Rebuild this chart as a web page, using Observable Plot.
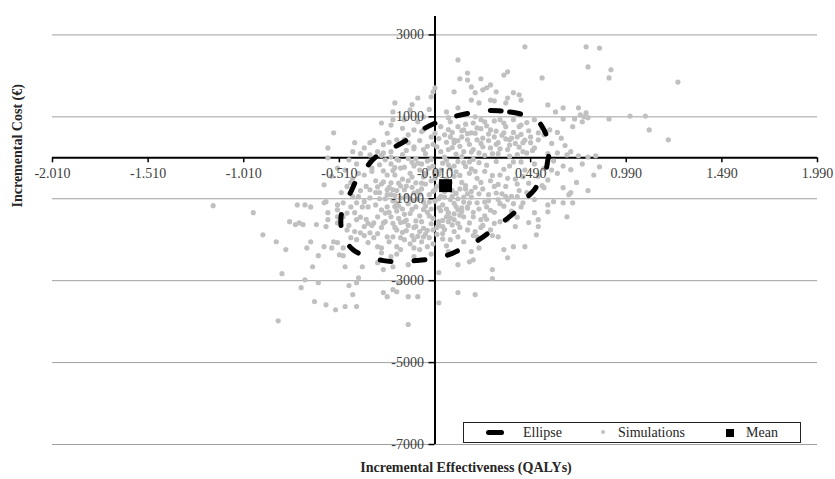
<!DOCTYPE html>
<html><head><meta charset="utf-8">
<script src="https://cdn.jsdelivr.net/npm/d3@7"></script>
<script src="https://cdn.jsdelivr.net/npm/@observablehq/plot@0.6"></script>
<style>
html,body{margin:0;padding:0;background:#fff;}
#wrap{position:relative;width:835px;height:479px;overflow:hidden;}
#legend{position:absolute;left:463px;top:422px;width:338px;height:21px;border:1px solid #222;background:#fff;box-sizing:border-box;font-family:"Liberation Serif","Times New Roman",serif;font-size:14px;color:#262626;}
#legend .txt{position:absolute;top:0;line-height:19px;white-space:nowrap;}
#legend .sym{position:absolute;}
</style></head><body><div id="wrap"></div>
<script>
// ---- tick values and labels ----
const xTicks = [-2.01, -1.51, -1.01, -0.51, -0.01, 0.49, 0.99, 1.49, 1.99];
const xTickLabels = ["-2.010", "-1.510", "-1.010", "-0.510", "-0.010", "0.490", "0.990", "1.490", "1.990"];
const yTicks = [3000, 1000, -1000, -3000, -5000, -7000];
const yTickLabels = ["3000", "1000", "-1000", "-3000", "-5000", "-7000"];
const yAxisAt = -0.01;   // x value where the vertical axis crosses
const xAxisAt = 0;       // y value where the horizontal axis crosses
const legendItems = ["Ellipse", "Simulations", "Mean"];
const xTitle = "Incremental Effectiveness (QALYs)";
const yTitle = "Incremental Cost (€)";

// ---- mean point ----
const meanPoint = [[0.045, -680]];

// ---- ellipse outline ----
const ellipse = [
  [0.32,1150],[0.38,1120],[0.45,1050],[0.49,950],[0.53,880],[0.56,680],[0.58,440],[0.59,200],
  [0.58,-50],[0.57,-290],[0.54,-540],[0.51,-780],[0.46,-1020],[0.42,-1270],[0.36,-1510],[0.29,-1760],
  [0.22,-2000],[0.13,-2220],[0.06,-2370],[-0.02,-2460],[-0.11,-2510],[-0.20,-2540],[-0.28,-2510],
  [-0.37,-2410],[-0.44,-2240],[-0.48,-2000],[-0.50,-1710],[-0.50,-1390],[-0.48,-1100],[-0.45,-830],
  [-0.42,-540],[-0.37,-240],[-0.32,20],[-0.26,170],[-0.20,320],[-0.13,510],[-0.06,730],[0.02,900],
  [0.10,1020],[0.18,1100],[0.25,1150]
];

// ---- simulations (QALY, cost) ----
const simulations = [
  [0.46,2710],[0.78,2710],[0.85,2680],[0.79,2220],[0.91,2150],[0.90,1950],[1.26,1850],[0.11,2390],[0.16,2070],[0.12,1930],[0.16,1900],[0.23,1930],[0.37,2100],[0.35,2020],[0.55,1950],
  [-0.01,1710],[-0.02,1610],[-0.03,1490],[0.09,1610],[0.18,1730],[0.20,1590],[0.24,1660],[0.26,1710],[0.28,1780],[0.31,1610],[0.40,1590],[0.43,1540],[0.44,1410],[0.37,1460],[0.36,1340],[0.18,1410],[0.22,1340],[0.28,1410],[0.30,1390],[-0.10,1460],[-0.22,1340],[0.58,1290],[0.62,1120],[0.66,1220],[0.74,1220],[0.66,950],[0.71,760],[0.76,880],[0.79,980],[0.55,730],[0.59,680],
  [0.11,1220],[0.05,1120],[0.06,980],[0.20,1000],[0.23,930],[0.25,880],[0.33,930],[0.40,930],[0.43,760],[0.51,930],[0.53,610],[0.53,440],[-0.14,1170],[-0.17,930],[-0.12,680],[-0.07,680],[-0.21,440],[-0.15,370],[-0.03,510],
  [0.11,760],[0.14,680],[0.18,610],[0.13,510],[0.16,440],[0.21,440],[0.07,510],[0.09,370],[0.28,680],[0.30,510],[0.32,370],[0.35,610],[0.38,440],[0.42,510],[0.45,370],[0.49,510],[0.24,270],[0.19,200],[0.14,150],[0.06,200],[0.00,270],[-0.07,200],[-0.12,270],[0.37,200],[0.45,150],[0.51,240],[0.63,120],[0.68,70],[0.74,50],[0.79,20],
  [0.78,1100],[0.90,950],[1.01,1020],[1.09,1020],[1.11,680],[1.21,440],[0.83,50],[0.85,-220],[0.70,-850],[0.72,950],[0.75,1050],[0.77,1000],
  [0.56,560],[0.60,350],[0.63,620],[0.67,300],[0.65,480],[0.70,150],[0.58,100],
  [-0.54,610],[-0.57,240],[-0.57,0],[-0.43,370],[-0.38,240],[-0.35,370],[-0.28,320],[-0.29,850],[-0.24,800],[-0.23,930],[-0.23,1120],[-0.44,150],[-0.35,70],[-0.28,120],[-0.24,20],
  [-1.17,-1170],[-0.96,-1340],[-0.91,-1880],[-0.84,-2050],[-0.79,-2240],[-0.81,-2830],[-0.83,-3980],[-0.71,-3170],[-0.69,-2980],[-0.64,-3510],[-0.58,-3590],[-0.53,-3710],[-0.48,-3630],[-0.42,-3630],[-0.44,-3340],[-0.46,-3120],[-0.42,-3050],[-0.41,-2930],[-0.62,-3050],[-0.65,-2660],[-0.68,-2200],[-0.62,-2390],[-0.59,-2170],[-0.66,-2050],[-0.54,-2050],[-0.52,-2070],[-0.55,-2200],[-0.49,-2200],[-0.51,-2370],[-0.49,-2390],[-0.48,-2660],[-0.39,-2660],
  [-0.77,-1560],[-0.74,-1630],[-0.72,-1590],[-0.70,-1630],[-0.63,-1630],[-0.58,-1680],[-0.57,-1510],[-0.57,-1340],[-0.52,-1270],[-0.52,-1150],[-0.66,-1200],[-0.69,-1150],[-0.73,-1150],[-0.59,-1100],[-0.58,-1070],[-0.59,-660],[-0.52,-1440],[-0.52,-1590],[-0.49,-1440],[-0.47,-1760],[-0.45,-1950],[-0.42,-2000],[-0.40,-1830],[-0.38,-1680],[-0.42,-1510],[-0.43,-1340],[-0.45,-1200],[-0.42,-1100],[-0.38,-1070],[-0.35,-980],[-0.32,-850],[-0.31,-710],[-0.28,-590],[-0.24,-610],[-0.26,-900],[-0.23,-780],[-0.21,-1100],[-0.26,-1200],[-0.29,-1270],[-0.24,-1440],[-0.28,-1590],[-0.31,-1440],[-0.33,-1590],[-0.35,-1830],[-0.36,-2070],[-0.31,-2170],[-0.29,-2320],[-0.31,-2560],[-0.28,-2730],[-0.28,-3290],[-0.26,-3390],[-0.23,-3220],[-0.20,-3050],[-0.24,-2410],[-0.23,-2660],[-0.21,-2170],[-0.21,-1760],[-0.23,-1930],[-0.26,-1930],
  [0.56,-730],[0.66,-730],[0.69,-900],[0.71,-1100],[0.66,-1100],[0.61,-1070],[0.58,-1320],[0.58,-1150],[0.68,-1440],[0.53,-1510],[0.51,-1340],[0.53,-1680],[0.52,-1880],[0.46,-2170],[0.40,-2170],[0.35,-2240],[0.37,-2440],[0.41,-1680],[0.37,-1510],[0.32,-1930],[0.28,-1760],[0.29,-2730],[0.29,-2950],[0.22,-2200],[0.18,-2290],[0.19,-2490],[0.17,-2540],[0.11,-2610],[0.20,-3340],[0.11,-3290],[0.01,-3540],[0.01,-2800],[-0.15,-4070],[-0.10,-3390],[-0.15,-3390],[-0.21,-3270],[-0.15,-2610],[-0.12,-2410],[-0.19,-2240],[-0.09,-2240],[-0.05,-2170],[-0.07,-1930],[-0.12,-2000],[-0.17,-2000],
  [0.06,-2290],[0.07,-2000],[0.11,-1930],[0.16,-1760],[0.21,-1930],[0.23,-1510],[0.19,-1440],[0.14,-1440],[0.09,-1510],[0.03,-1680],[0.06,-1340],[0.11,-1270],[0.16,-1200],[0.21,-1100],[0.26,-1200],[0.32,-1020],[0.37,-1020],[0.42,-950],[0.44,-1200],[0.47,-850],[0.51,-1020],
  [-0.24,-150],[-0.20,-60],[-0.17,-230],[-0.13,-110],[-0.09,-300],[-0.05,-80],[-0.02,-200],[0.03,-130],[0.07,-260],[0.11,-90],[0.15,-210],[0.19,-40],
  [-0.22,-420],[-0.18,-520],[-0.14,-380],[-0.11,-610],[-0.07,-470],[-0.03,-560],[0.01,-400],[0.05,-520],[0.09,-450],[0.13,-600],[0.17,-380],[0.21,-500],
  [-0.25,-720],[-0.21,-800],[-0.16,-690],[-0.12,-860],[-0.08,-760],[-0.04,-900],[0.00,-700],[0.04,-820],[0.08,-940],[0.12,-760],[0.16,-880],[0.20,-720],
  [-0.23,-1050],[-0.19,-980],[-0.15,-1120],[-0.10,-1010],[-0.06,-1180],[-0.01,-1060],[0.03,-1150],[0.07,-1020],[0.10,-1190],[0.14,-1080],[0.18,-960],
  [-0.21,-1300],[-0.17,-1380],[-0.13,-1260],[-0.09,-1420],[-0.05,-1330],[-0.02,-1480],[0.02,-1290],[0.05,-1440],[0.09,-1370],[0.13,-1310],
  [-0.19,-1580],[-0.15,-1650],[-0.11,-1540],[-0.07,-1720],[-0.03,-1610],[0.01,-1560],[0.04,-1750],[0.08,-1640],
  [-0.18,-1820],[-0.13,-1900],[-0.09,-1800],[-0.04,-1950],[0.00,-1870],
  [-0.23,-310],[-0.19,-250],[-0.15,-560],[-0.12,-200],[-0.08,-150],[-0.06,-380],[-0.01,-330],[0.02,-610],[0.06,-170],[0.10,-340],[0.14,-120],[0.18,-270],
  [-0.24,-900],[-0.20,-620],[-0.16,-930],[-0.13,-720],[-0.10,-820],[-0.06,-640],[-0.02,-820],[0.02,-940],[0.06,-650],[0.10,-870],[0.14,-960],[0.18,-820],
  [-0.22,-1190],[-0.18,-1250],[-0.14,-1000],[-0.11,-1200],[-0.07,-1080],[-0.03,-1250],[0.01,-1000],[0.05,-1250],[0.09,-1110],[0.12,-1400],[0.16,-1230],
  [-0.20,-1480],[-0.16,-1520],[-0.12,-1700],[-0.08,-1560],[-0.04,-1420],[0.00,-1700],[0.03,-1530],[0.07,-1470],[0.11,-1600],
  [-0.22,-1700],[-0.16,-1780],[-0.10,-1920],[-0.06,-1860],[-0.02,-1760],[0.03,-1850],
  [0.02,150],[0.05,380],[0.08,620],[0.10,90],[0.12,280],[0.15,820],[0.17,330],[0.20,600],[0.22,120],[0.24,480],[0.26,780],[0.28,240],[0.30,900],[0.32,100],[0.34,550],[0.36,760],[0.38,310],[0.40,620],[0.42,80],[0.44,800],[0.46,430],[0.48,660],[0.50,180],[0.02,760],[0.04,560],[0.07,880],[0.09,430],[0.13,660],[0.19,850],[0.23,710],[0.27,580],[0.31,330],[0.35,850],[0.39,480],[0.43,260],[0.47,860],
  [0.22,-120],[0.25,-330],[0.28,-560],[0.31,-90],[0.33,-420],[0.36,-700],[0.38,-200],[0.41,-520],[0.43,-800],[0.46,-300],[0.48,-620],[0.51,-150],[0.53,-450],[0.56,-260],[0.58,-540],[0.61,-80],[0.63,-380],[0.66,-200],[0.24,-760],[0.27,-900],[0.30,-700],[0.34,-880],[0.39,-940],[0.44,-100],[0.49,-870],[0.55,-680],[0.60,-300],
  [0.22,-1250],[0.25,-1420],[0.27,-1050],[0.30,-1330],[0.33,-1560],[0.35,-1180],[0.39,-1300],[0.42,-1450],[0.45,-1100],[0.48,-1580],[0.24,-1650],[0.29,-1900],[0.20,-1800],
  [-0.48,-300],[-0.45,-600],[-0.42,-150],[-0.40,-800],[-0.38,-420],[-0.36,-1200],[-0.34,-250],[-0.32,-560],[-0.30,-1000],[-0.28,-320],[-0.27,-1350],[-0.26,-780],[-0.29,-1700],[-0.33,-1950],[-0.37,-1500],[-0.44,-950],[-0.47,-1350],[-0.50,-850],[-0.40,100],[-0.31,150],[-0.27,-50],[-0.35,-100],
  [-0.52,-250],[-0.46,-50],[-0.55,-450],[-0.41,-380],
  [-0.24,150],[-0.20,330],[-0.18,80],[-0.15,560],[-0.12,220],[-0.09,420],[-0.06,100],[-0.04,780],[-0.02,330],[-0.01,600],[-0.18,720],[-0.10,880],[-0.26,600],[-0.07,1000],[-0.13,1300],[-0.04,1180],
  [0.70,-290],[0.76,-150],[0.82,-420],[0.73,-600],[0.79,-800],
  [-0.33,420],[-0.29,60],[-0.25,380],[-0.21,-30],[-0.17,450],[-0.16,180],[-0.11,-20],[-0.08,640],[-0.05,280],[-0.03,-40],[0.01,470],[0.04,20],[0.06,690],[0.08,250],[0.11,420],[0.13,30],[0.16,590],[0.18,140],[0.21,730],[0.23,350],[0.25,60],[0.27,420],[0.29,100],[0.31,650],[0.33,220],[0.36,460],[0.38,40],[0.41,350],[0.44,570],[0.47,120],[0.49,370],
  [-0.34,-330],[-0.30,-170],[-0.29,-640],[-0.26,-420],[-0.22,-240],[-0.19,-690],[-0.15,-20],[-0.13,-470],[-0.10,-130],[-0.08,-620],[-0.04,-250],[-0.01,-500],[0.02,-300],[0.05,-60],[0.07,-600],[0.09,-200],[0.12,-430],[0.15,-680],[0.17,-100],[0.20,-330],[0.23,-600],[0.26,-180],[0.29,-430],[0.32,-650],[0.35,-280],[0.37,-500],[0.40,-100],[0.42,-640],[0.45,-460],
  [-0.35,-780],[-0.32,-1150],[-0.30,-850],[-0.27,-1000],[-0.25,-1330],[-0.22,-920],[-0.20,-1180],[-0.17,-780],[-0.14,-1360],[-0.12,-1040],[-0.09,-880],[-0.07,-1260],[-0.04,-1080],[-0.01,-780],[0.01,-1220],[0.04,-960],[0.06,-1360],[0.08,-800],[0.11,-1000],[0.13,-1220],[0.15,-760],[0.17,-1100],[0.19,-1330],[0.22,-880],[0.25,-1080],[0.28,-1280],[0.31,-860],[0.33,-1120],[0.36,-940],[0.40,-1120],
  [-0.34,-1650],[-0.31,-1850],[-0.27,-1560],[-0.25,-2050],[-0.23,-1600],[-0.19,-1950],[-0.17,-1560],[-0.14,-2100],[-0.11,-1680],[-0.08,-2050],[-0.05,-1770],[-0.02,-2100],[0.01,-1650],[0.03,-1980],[0.06,-1560],[0.09,-1800],[0.12,-1700],[0.14,-2050],[0.17,-1590],[0.19,-1900],[0.23,-1700],[0.26,-1500],[0.30,-1600],[-0.29,-2200],[-0.21,-2350],[-0.12,-2200],[-0.03,-2350],[0.05,-2150],
  [-0.46,-1650],[-0.43,-1800],[-0.40,-1450],[-0.38,-1900],[-0.36,-1600],[-0.39,-1200],[-0.41,-950],[-0.37,-700],[-0.44,-500],[-0.49,-1100],[-0.47,-700]
];

const serif = "'Liberation Serif', 'Times New Roman', serif";
const labelColor = "#404040";

const chart = Plot.plot({
  width: 835, height: 479,
  marginLeft: 52, marginRight: 18, marginTop: 16, marginBottom: 35,
  x: {domain: [-2.01, 1.99], axis: null},
  y: {domain: [-7000, 3450], axis: null},
  style: {background: "#fff", fontFamily: serif},
  marks: [
    Plot.ruleY(yTicks, {stroke: "#a0a0a0", strokeWidth: 1}),
    Plot.ruleY([xAxisAt], {stroke: "#000", strokeWidth: 2}),
    Plot.ruleX([yAxisAt], {stroke: "#000", strokeWidth: 2}),
    Plot.ruleX(xTicks, {x: d => d, y1: xAxisAt, y2: xAxisAt, insetBottom: -5, stroke: "#000", strokeWidth: 1.5}),
    Plot.ruleY(yTicks, {y: d => d, x1: yAxisAt, x2: yAxisAt, insetLeft: -6, stroke: "#000", strokeWidth: 1.5}),
    Plot.dot(simulations, {x: d => d[0], y: d => d[1], r: 2.6, fill: "#c0c0c0"}),
    Plot.line(ellipse, {x: d => d[0], y: d => d[1], curve: "catmull-rom-closed", stroke: "#000", strokeWidth: 5, strokeDasharray: "11,23", strokeLinecap: "round"}),
    Plot.dot(meanPoint, {x: d => d[0], y: d => d[1], symbol: "square", r: 7.3, fill: "#000"}),
    Plot.text(xTicks, {x: d => d, y: xAxisAt, text: (d, i) => xTickLabels[i], dy: 16, fontSize: 14, fill: labelColor, fontFamily: serif}),
    Plot.text(yTicks, {x: yAxisAt, y: d => d, text: (d, i) => yTickLabels[i], textAnchor: "end", dx: -11, fontSize: 14, fill: labelColor, fontFamily: serif}),
    Plot.text([xTitle], {frameAnchor: "bottom", dy: 27, dx: 31, text: d => d, fontWeight: "bold", fontSize: 14, fill: "#262626", fontFamily: serif}),
    Plot.text([yTitle], {frameAnchor: "left", rotate: -90, dx: -35, dy: -23, text: d => d, fontWeight: "bold", fontSize: 14, fill: "#262626", fontFamily: serif})
  ]
});
const wrap = document.getElementById("wrap");
wrap.appendChild(chart);

// ---- legend (inside the plot area, bottom right) ----
const legend = document.createElement("div");
legend.id = "legend";
const symStyles = [
  "left:22px;top:7px;width:18px;height:5px;border-radius:3px;background:#000;",
  "left:137px;top:7px;width:4px;height:4px;border-radius:50%;background:#c0c0c0;",
  "left:262px;top:6px;width:8px;height:8px;background:#000;"
];
const textLefts = [59, 154, 282];
legendItems.forEach((name, i) => {
  const s = document.createElement("div");
  s.className = "sym"; s.style.cssText = symStyles[i];
  legend.appendChild(s);
  const t = document.createElement("div");
  t.className = "txt"; t.style.left = textLefts[i] + "px"; t.textContent = name;
  legend.appendChild(t);
});
wrap.appendChild(legend);
</script>
</body></html>
